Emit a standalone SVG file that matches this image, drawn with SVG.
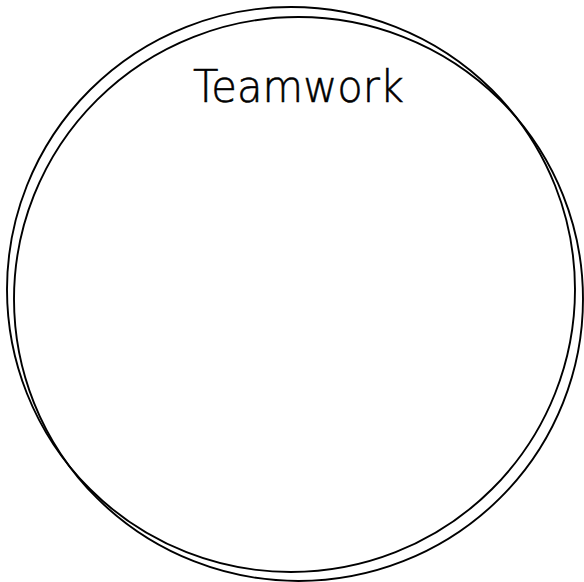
<svg xmlns="http://www.w3.org/2000/svg" width="584" height="582" viewBox="0 0 584 582">
<style>
.ring{fill:none;stroke:#000;stroke-width:1.9}
.label{font-family:"DejaVu Sans","Liberation Sans",sans-serif;font-weight:200;font-size:45px;fill:#000;stroke:#000;stroke-width:0.6}
</style>
<rect width="584" height="582" fill="#fff"/>
<g id="teamwork">
<ellipse class="ring" cx="291" cy="289.5" rx="284" ry="282.5"/>
<ellipse class="ring" cx="298.5" cy="299" rx="284.5" ry="282"/>
<text class="label" x="298.5" y="102" text-anchor="middle" textLength="211" lengthAdjust="spacingAndGlyphs">Teamwork</text>
</g>
</svg>
